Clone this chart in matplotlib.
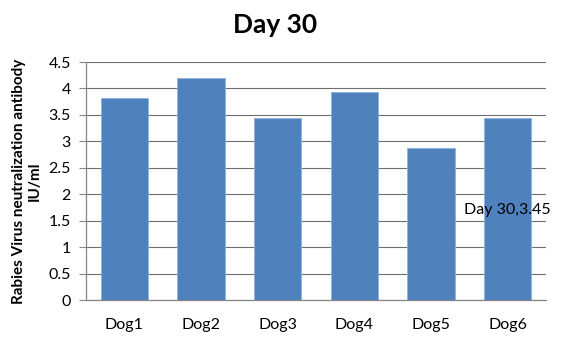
import matplotlib
matplotlib.use("Agg")
import matplotlib.pyplot as plt

categories = ["Dog1", "Dog2", "Dog3", "Dog4", "Dog5", "Dog6"]
values = [3.82, 4.19, 3.45, 3.94, 2.87, 3.45]
yticks = [0, 0.5, 1, 1.5, 2, 2.5, 3, 3.5, 4, 4.5]
ytick_labels = ["0", "0.5", "1", "1.5", "2", "2.5", "3", "3.5", "4", "4.5"]
title = "Day 30"
ylabel = "Rabies Virus neutralization antibody\nIU/ml"
annot_text = "Day 30,3.45"
annot_index = 5
annot_y = 1.7

plt.rcParams['font.family'] = ['Lato', 'DejaVu Sans']

fig = plt.figure(figsize=(5.63, 3.45), dpi=100)
W, H = 563, 345
left, right, top, bottom = 86, 546, 62, 300
ax = fig.add_axes([left / W, 1 - bottom / H, (right - left) / W, (bottom - top) / H])

x = list(range(len(categories)))
ax.bar(x, values, width=0.62, color="#4F81BD", edgecolor="#8EB4E3", linewidth=0.6, zorder=3)
ax.set_xlim(-0.5, len(categories) - 0.5)
ax.set_ylim(0, 4.5)
ax.set_yticks(yticks)
ax.set_yticklabels(ytick_labels, fontsize=11.5)
ax.set_xticks(x)
ax.set_xticklabels(categories, fontsize=11.5)
ax.tick_params(axis="x", length=0, pad=13)
ax.tick_params(axis="y", length=5, width=0.8, color="#868686", pad=6, direction="out")
ax.yaxis.grid(True, color="#6e6e6e", linewidth=0.8, zorder=0)
ax.set_axisbelow(True)
ax.spines["right"].set_visible(False)
ax.spines["top"].set_visible(False)
ax.spines["left"].set_color("#868686")
ax.spines["bottom"].set_color("#868686")
ax.spines["left"].set_linewidth(0.9)
ax.spines["bottom"].set_linewidth(0.9)

ax.text(x[annot_index], annot_y, annot_text, ha="center", va="center", fontsize=11.5, zorder=4)
ax.set_ylabel(ylabel, fontsize=11, fontweight="bold", labelpad=5, linespacing=1.1)
fig.text(275 / W, 1 - 25 / H, title, ha="center", va="center", fontsize=19, fontweight="bold")

fig.savefig("out.png", dpi=100)
